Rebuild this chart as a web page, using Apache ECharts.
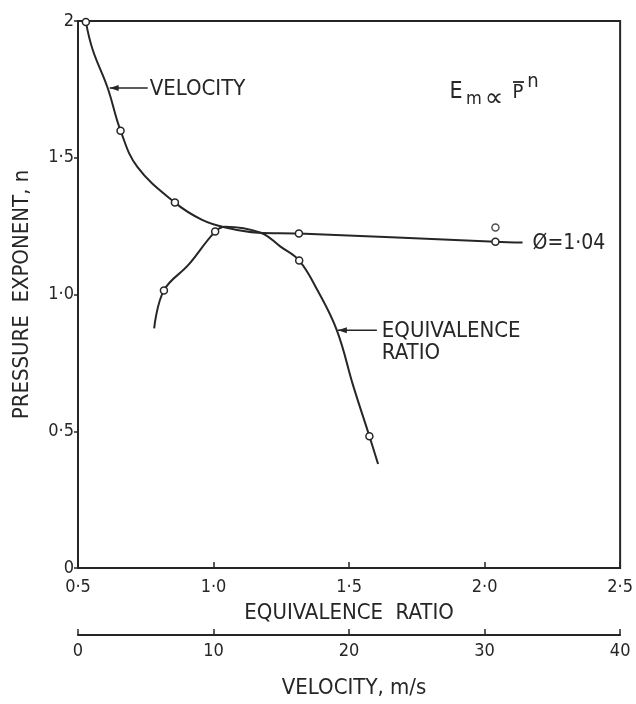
<!DOCTYPE html>
<html>
<head>
<meta charset="utf-8">
<script src="https://cdn.jsdelivr.net/npm/echarts@6/dist/echarts.min.js"></script>
<style>
  html, body { margin: 0; padding: 0; background: #ffffff; }
  #chart { width: 636px; height: 704px; }
</style>
</head>
<body>
<div id="chart"></div>
<script>
// Pressure exponent n (E_m ∝ P^-n) versus equivalence ratio and versus velocity

// Velocity run (phi = 1.04): [velocity m/s, n]; velocityMarked flags the measured points
const velocityPoints = [[0.58, 1.996], [1.09, 1.894], [2.19, 1.755], [3.14, 1.599], [4.38, 1.467], [7.15, 1.336], [9.12, 1.274], [10.88, 1.245], [13.3, 1.226], [16.3, 1.223], [30.8, 1.193], [32.8, 1.19]];
const velocityMarked = [true, false, false, true, false, true, false, false, false, true, true, false];
const velocityExtra = [[30.8, 1.245]];

// Equivalence ratio run: [phi, n]
const ratioPoints = [[0.781, 0.876], [0.817, 1.015], [0.908, 1.109], [1.006, 1.230], [1.043, 1.248], [1.174, 1.226], [1.247, 1.175], [1.316, 1.124], [1.382, 1.018], [1.455, 0.869], [1.516, 0.664], [1.575, 0.482], [1.607, 0.38]];
const ratioMarked = [false, true, false, true, false, false, false, true, false, false, false, true, false];

// Axis tick values
const nTicks = [0, 0.5, 1, 1.5, 2];
const ratioTicks = [0.5, 1.0, 1.5, 2.0, 2.5];
const velocityTicks = [0, 10, 20, 30, 40];

// Curve points where the callout leaders attach
const VELOCITY_LEADER = 2;
const RATIO_LEADER = 9;

const FONT = "'DejaVu Sans Condensed', 'Liberation Sans Narrow', 'Liberation Sans', Arial, sans-serif";
const INK = '#262626';

function dotted(v) {
  return v.toFixed(1).replace('.', '\u00b7');
}

const chart = echarts.init(document.getElementById('chart'), null, { renderer: 'canvas' });

function toSeriesData(points, marked) {
  return points.map((p, i) => ({
    value: p,
    symbol: marked[i] ? 'circle' : 'none'
  }));
}

const option = {
  backgroundColor: '#ffffff',
  animation: false,
  grid: {
    left: 78, right: 9, top: 21, bottom: 135,
    show: true, borderColor: INK, borderWidth: 2, backgroundColor: 'transparent'
  },
  xAxis: [
    {
      type: 'value', position: 'bottom',
      min: ratioTicks[0], max: ratioTicks[ratioTicks.length - 1], interval: 0.5,
      axisLine: { show: true, onZero: false, lineStyle: { color: INK, width: 2 } },
      axisTick: { show: true, inside: true, length: 6, lineStyle: { color: INK, width: 1.5 } },
      axisLabel: {
        color: INK, fontFamily: FONT, fontSize: 18, margin: 10,
        formatter: v => dotted(v)
      },
      splitLine: { show: false },
      name: 'EQUIVALENCE  RATIO', nameLocation: 'middle', nameGap: 34,
      nameTextStyle: { color: INK, fontFamily: FONT, fontSize: 22 }
    },
    {
      type: 'value', position: 'bottom', offset: 67,
      min: velocityTicks[0], max: velocityTicks[velocityTicks.length - 1], interval: 10,
      axisLine: { show: true, onZero: false, lineStyle: { color: INK, width: 2 } },
      axisTick: { show: true, inside: true, length: 6, lineStyle: { color: INK, width: 1.5 } },
      axisLabel: { color: INK, fontFamily: FONT, fontSize: 18, margin: 7 },
      splitLine: { show: false },
      name: 'VELOCITY, m/s', nameLocation: 'middle', nameGap: 42,
      nameTextStyle: { color: INK, fontFamily: FONT, fontSize: 22, padding: [0, 0, 0, 10] }
    }
  ],
  yAxis: {
    type: 'value', min: nTicks[0], max: nTicks[nTicks.length - 1], interval: 0.5,
    axisLine: { show: true, lineStyle: { color: INK, width: 2 } },
    axisTick: { show: true, inside: false, length: 4, lineStyle: { color: INK, width: 1.5 } },
    axisLabel: {
      color: INK, fontFamily: FONT, fontSize: 18, margin: 4,
      formatter: v => (v === 0 || v === 2) ? String(v) : dotted(v)
    },
    splitLine: { show: false },
    name: 'PRESSURE  EXPONENT, n', nameLocation: 'middle', nameGap: 45, nameRotate: 90,
    nameTextStyle: { color: INK, fontFamily: FONT, fontSize: 22 }
  },
  series: [
    {
      name: 'VELOCITY', type: 'line', xAxisIndex: 1,
      data: toSeriesData(velocityPoints, velocityMarked),
      smooth: 0.4,
      symbolSize: 7,
      lineStyle: { color: INK, width: 2 },
      itemStyle: { color: '#ffffff', borderColor: INK, borderWidth: 1.5 },
      z: 3
    },
    {
      name: 'VELOCITY extra', type: 'scatter', xAxisIndex: 1,
      data: velocityExtra, symbol: 'circle', symbolSize: 7,
      itemStyle: { color: '#ffffff', borderColor: INK, borderWidth: 1.5 },
      z: 4
    },
    {
      name: 'EQUIVALENCE RATIO', type: 'line', xAxisIndex: 0,
      data: toSeriesData(ratioPoints, ratioMarked),
      smooth: 0.4,
      symbolSize: 7,
      lineStyle: { color: INK, width: 2 },
      itemStyle: { color: '#ffffff', borderColor: INK, borderWidth: 1.5 },
      z: 3
    }
  ]
};

chart.setOption(option);

// Leader lines and labels anchored on the curves
const vTip = chart.convertToPixel({ xAxisIndex: 1, yAxisIndex: 0 }, velocityPoints[VELOCITY_LEADER]);
const rTip = chart.convertToPixel({ xAxisIndex: 0, yAxisIndex: 0 }, ratioPoints[RATIO_LEADER]);
const vEnd = chart.convertToPixel({ xAxisIndex: 1, yAxisIndex: 0 }, velocityPoints[velocityPoints.length - 1]);

function arrow(x, y) {
  return {
    type: 'polygon',
    shape: { points: [[x, y], [x + 9, y - 3], [x + 9, y + 3]] },
    style: { fill: INK }
  };
}

function label(t, x, y, size, align, family) {
  return {
    type: 'text', x: x, y: y,
    style: {
      text: t, fill: INK, font: size + 'px ' + (family || FONT),
      textVerticalAlign: 'middle', textAlign: align || 'left'
    }
  };
}

chart.setOption({
  graphic: [
    // VELOCITY callout
    { type: 'line', shape: { x1: vTip[0] + 2, y1: vTip[1], x2: vTip[0] + 40, y2: vTip[1] }, style: { stroke: INK, lineWidth: 1.5 } },
    arrow(vTip[0] + 2, vTip[1]),
    label('VELOCITY', vTip[0] + 42, vTip[1] + 1, 22),

    // EQUIVALENCE RATIO callout
    { type: 'line', shape: { x1: rTip[0] + 1, y1: rTip[1], x2: rTip[0] + 40, y2: rTip[1] }, style: { stroke: INK, lineWidth: 1.5 } },
    arrow(rTip[0] + 1, rTip[1]),
    label('EQUIVALENCE', rTip[0] + 45, rTip[1] + 1, 22),
    label('RATIO', rTip[0] + 45, rTip[1] + 23, 22),

    // phi = 1.04 tag at the end of the velocity curve
    label('\u00d8=1\u00b704', vEnd[0] + 10, vEnd[1] + 1, 21),

    // E_m ∝ P̄^n
    label('E', 456, 92, 23, 'center'),
    label('m', 474, 99, 18, 'center'),
    label('\u221d', 494, 99, 26, 'center', "'DejaVu Sans', 'Noto Sans', sans-serif"),
    label('P', 518, 93, 20, 'center'),
    { type: 'line', shape: { x1: 513, y1: 82, x2: 524, y2: 82 }, style: { stroke: INK, lineWidth: 1.8 } },
    label('n', 533, 82, 20, 'center')
  ]
});
</script>
</body>
</html>
